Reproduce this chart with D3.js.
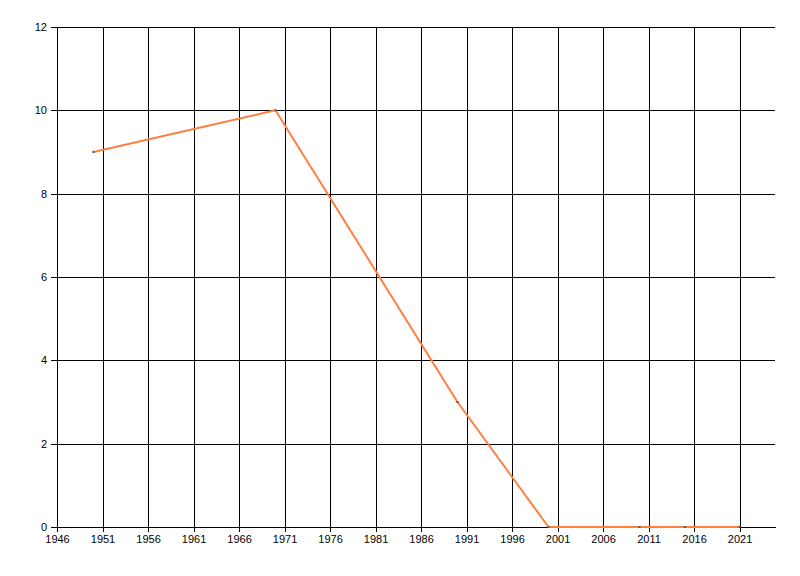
<!DOCTYPE html>
<html><head><meta charset="utf-8">
<script src="https://cdn.jsdelivr.net/npm/d3@7"></script>
<style>body{margin:0;background:#fff}svg{display:block}text{font-family:"Liberation Sans",Arial,sans-serif;font-size:11px;fill:#000}</style>
</head><body>
<svg id="c" width="800" height="576"></svg>
<script>
const years = [1950, 1970, 1990, 2000, 2010, 2015, 2021];
const values = [9, 10, 3, 0, 0, 0, 0];
const xTicks = [1946,1951,1956,1961,1966,1971,1976,1981,1986,1991,1996,2001,2006,2011,2016,2021];
const yTicks = [0,2,4,6,8,10,12];

const svg = d3.select("#c");
const m = {l:57, t:27, r:776, b:527};
const x = d3.scaleLinear().domain([1946, 2025]).range([m.l, m.r]);
const y = d3.scaleLinear().domain([0, 12]).range([m.b, m.t]);

// grid
const g = svg.append("g");
g.selectAll(".vg").data(xTicks).join("line")
  .attr("x1", d=>Math.round(x(d))+0.5).attr("x2", d=>Math.round(x(d))+0.5)
  .attr("y1", m.t).attr("y2", m.b+5).attr("stroke","#000");
g.selectAll(".hg").data(yTicks).join("line")
  .attr("x1", m.l-6).attr("x2", d=> d===0 ? m.r : x(2025)-1)
  .attr("y1", d=>Math.round(y(d))+0.5).attr("y2", d=>Math.round(y(d))+0.5).attr("stroke","#000");

// axes labels
const xAxis = d3.axisBottom(x).tickValues(xTicks).tickFormat(d3.format("d")).tickSize(0).tickPadding(8);
const xa = svg.append("g").attr("transform",`translate(0,${m.b})`).call(xAxis);
xa.select(".domain").remove();
xa.selectAll("text").style("font-family",'"Liberation Sans",Arial,sans-serif').style("font-size","11px").attr("fill","#000");
const yAxis = d3.axisLeft(y).tickValues(yTicks).tickSize(0).tickPadding(10);
const ya = svg.append("g").attr("transform",`translate(${m.l},0)`).call(yAxis);
ya.select(".domain").remove();
ya.selectAll("text").style("font-family",'"Liberation Sans",Arial,sans-serif').style("font-size","11px").attr("fill","#000");

// line
const pts = years.map((d,i)=>[d, values[i]]);
const line = d3.line().x(d=>x(d[0])).y(d=>y(d[1]));
svg.append("path").datum(pts).attr("d", line).attr("fill","none")
  .attr("stroke","#ff7f3f").attr("stroke-width",2).attr("stroke-linejoin","round");
svg.selectAll(".pt").data(pts).join("rect")
  .attr("x", d=>x(d[0])-1).attr("y", d=>y(d[1])-1).attr("width",2).attr("height",2).attr("fill","#555");
</script>
</body></html>
